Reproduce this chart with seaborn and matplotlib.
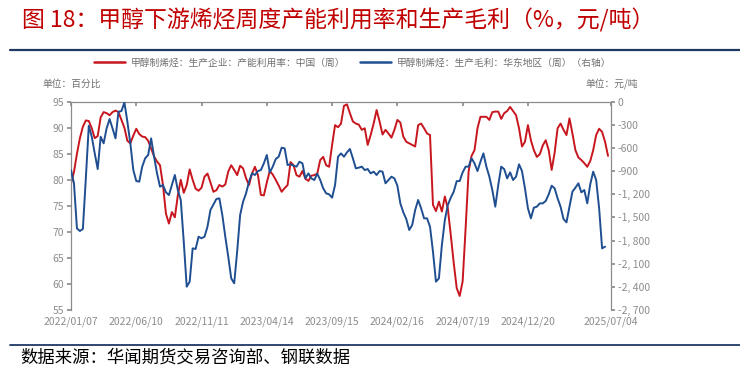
import numpy as np
import pandas as pd
import matplotlib
matplotlib.use("Agg")
import matplotlib.pyplot as plt
from matplotlib.lines import Line2D
from matplotlib.ticker import FuncFormatter, MultipleLocator
import seaborn as sns

# ---------------- data ----------------
dates = pd.date_range("2022-01-07", periods=182, freq="7D")

utilization = [
    79.3, 81.5, 85.0, 88.0, 90.2, 91.4, 91.3, 89.9, 88.0, 88.4,
    92.0, 93.0, 92.8, 92.4, 93.0, 93.3, 93.0, 91.5, 90.0, 87.5,
    87.0, 88.5, 89.8, 88.8, 88.3, 88.2, 87.5, 86.0, 84.5, 83.5,
    82.8, 79.0, 73.5, 71.6, 73.8, 72.8, 77.0, 80.0, 77.5, 79.0,
    82.0, 80.0, 78.3, 77.9, 78.5, 80.6, 81.2, 79.5, 77.7, 78.0,
    79.0, 78.7, 79.1, 81.6, 82.8, 81.9, 80.9, 82.7, 82.2, 80.3,
    79.0, 81.2, 82.5, 80.9, 77.1, 77.0, 79.5, 81.7, 81.0, 80.0,
    78.9, 77.7, 78.4, 79.0, 83.4, 82.8, 80.9, 80.6, 81.7, 80.2,
    79.8, 80.8, 80.9, 81.2, 83.8, 84.4, 82.8, 82.5, 86.7, 90.5,
    90.1, 90.8, 94.2, 94.5, 92.8, 91.2, 90.8, 90.6, 89.6, 89.9,
    86.7, 88.6, 90.8, 93.4, 91.2, 88.7, 89.6, 88.9, 88.1, 89.6,
    91.5, 91.0, 88.3, 87.3, 87.0, 86.7, 86.4, 90.5, 90.8, 89.9,
    88.9, 88.6, 75.2, 74.0, 75.8, 73.9, 76.8, 74.5, 69.4, 64.0,
    59.2, 57.7, 60.5, 70.7, 81.6, 84.6, 85.7, 89.9, 92.1, 92.1,
    92.1, 91.5, 93.0, 93.1, 93.1, 91.7, 92.8, 93.2, 94.0, 93.2,
    92.4, 89.9, 86.4, 87.3, 90.5, 87.6, 85.7, 84.4, 84.9, 86.6,
    87.6, 85.7, 81.9, 85.2, 89.9, 90.8, 89.6, 88.6, 91.8, 88.9,
    85.7, 84.3, 83.8, 83.2, 82.5, 83.6, 85.7, 88.6, 89.8, 89.2,
    87.3, 84.6,
]

margin = [
    -886, -1058, -1642, -1676, -1650, -994, -311, -454, -670, -873,
    -454, -540, -346, -225, -346, -475, -130, -121, -10, -259,
    -540, -886, -1028, -1037, -842, -734, -691, -475, -713, -929,
    -1102, -1080, -1175, -1210, -1080, -950, -1145, -1274, -1814, -2398,
    -2333, -1901, -1909, -1750, -1770, -1750, -1620, -1404, -1331, -1261,
    -1253, -1469, -1750, -2009, -2290, -2354, -1944, -1469, -1296, -1188,
    -1037, -929, -950, -899, -886, -799, -691, -916, -842, -743,
    -713, -596, -605, -821, -812, -829, -842, -778, -799, -994,
    -929, -994, -1015, -933, -1015, -1123, -1188, -1201, -1244, -1080,
    -713, -670, -713, -657, -613, -734, -864, -855, -842, -886,
    -873, -929, -907, -950, -899, -907, -1058, -1015, -972, -994,
    -1089, -1318, -1434, -1521, -1663, -1598, -1404, -1274, -1382, -1512,
    -1512, -1620, -1944, -2333, -2290, -1858, -1534, -1339, -1244, -1166,
    -1030, -1028, -916, -842, -842, -734, -799, -899, -778, -670,
    -842, -972, -1145, -1361, -1080, -842, -873, -994, -916, -1015,
    -972, -812, -899, -1123, -1382, -1512, -1374, -1361, -1318, -1318,
    -1287, -1201, -1089, -1123, -1253, -1361, -1521, -1564, -1361, -1166,
    -1115, -1058, -1175, -1145, -1318, -1071, -907, -1015, -1382, -1901,
    -1879, np.nan,
]

tick_labels = ["2022/01/07", "2022/06/10", "2022/11/11", "2023/04/14", "2023/09/15",
               "2024/02/16", "2024/07/19", "2024/12/20", "2025/07/04"]

name_util = "甲醇制烯烃：生产企业：产能利用率：中国（周）"
name_margin = "甲醇制烯烃：生产毛利：华东地区（周）（右轴）"
title = "图 18：甲醇下游烯烃周度产能利用率和生产毛利（%，元/吨）"
source = "数据来源：华闻期货交易咨询部、钢联数据"

df = pd.DataFrame({"date": dates, "util": utilization, "margin": margin})

# ---------------- style ----------------
sns.set_theme(style="white")
plt.rcParams["font.family"] = ["Noto Sans CJK SC", "DejaVu Sans"]
plt.rcParams["axes.unicode_minus"] = False

RED = "#C8161E"
BLUE = "#1F4E91"
GREY = "#8C8C8C"
TXT = "#8C8C8C"

fig = plt.figure(figsize=(7.4, 3.7), dpi=100)
ax = fig.add_axes([71 / 740, 1 - 310 / 370, 540 / 740, (310 - 101.7) / 370])
ax2 = ax.twinx()

sns.lineplot(data=df, x="date", y="util", ax=ax, color=RED, linewidth=1.4)
sns.lineplot(data=df, x="date", y="margin", ax=ax2, color=BLUE, linewidth=1.4)

ax.set_xlim(pd.Timestamp("2022-01-07"), pd.Timestamp("2025-07-04"))
ax.set_ylim(55, 95)
ax2.set_ylim(-2700, 0)
ax.yaxis.set_major_locator(MultipleLocator(5))
ax2.yaxis.set_major_locator(MultipleLocator(300))
ax2.yaxis.set_major_formatter(FuncFormatter(lambda v, p: f"{int(round(v)):,}".replace(",", ", ")))

tick_dates = [pd.Timestamp(s.replace("/", "-")) for s in tick_labels]
ax.set_xticks(tick_dates)
ax.set_xticklabels(tick_labels)

for a in (ax, ax2):
    a.set_xlabel("")
    a.set_ylabel("")
    a.grid(False)
    for s in a.spines.values():
        s.set_visible(False)

ax.spines["left"].set_visible(True)
ax.spines["left"].set_color(GREY)
ax.spines["left"].set_linewidth(0.9)
ax.spines["top"].set_visible(True)
ax.spines["top"].set_color(GREY)
ax.spines["top"].set_linewidth(0.9)
ax2.spines["right"].set_visible(True)
ax2.spines["right"].set_color(GREY)
ax2.spines["right"].set_linewidth(0.9)

ax.tick_params(axis="x", which="both", top=True, bottom=False, labeltop=False,
               labelbottom=True, direction="in", length=3, color=GREY,
               labelsize=7.5, labelcolor=TXT, pad=5)
ax.tick_params(axis="y", left=True, direction="out", length=3, color=GREY,
               labelsize=7.5, labelcolor=TXT, pad=2)
ax2.tick_params(axis="y", right=True, direction="out", length=3, color=GREY,
                labelsize=7.5, labelcolor=TXT, pad=2)

# legend
handles = [Line2D([0], [0], color=RED, lw=1.8), Line2D([0], [0], color=BLUE, lw=1.8)]
fig.legend(handles, [name_util, name_margin], loc="center", ncol=2,
           bbox_to_anchor=(0.476, 1 - 62.5 / 370), frameon=False,
           fontsize=7.0, labelcolor="#707070", handlelength=3.2,
           handletextpad=0.6, columnspacing=1.5)

# unit labels
fig.text(42 / 740, 1 - 84 / 370, "单位：百分比", fontsize=7.0, color="#707070", va="center")
fig.text(638 / 740, 1 - 84 / 370, "单位：元/吨", fontsize=7.0, color="#707070", va="center", ha="right")

# title and rules
fig.text(22 / 740, 1 - 20 / 370, title, fontsize=16.5, color="#C00000", va="center")
fig.add_artist(Line2D([10 / 740, 1.0], [1 - 50 / 370, 1 - 50 / 370], color="#1F3864", lw=1.6))
fig.add_artist(Line2D([10 / 740, 1.0], [1 - 345 / 370, 1 - 345 / 370], color="#1F3864", lw=1.3))
fig.text(20 / 740, 1 - 358 / 370, source, fontsize=12.5, color="black", va="center")

fig.savefig("out.png", dpi=100)
